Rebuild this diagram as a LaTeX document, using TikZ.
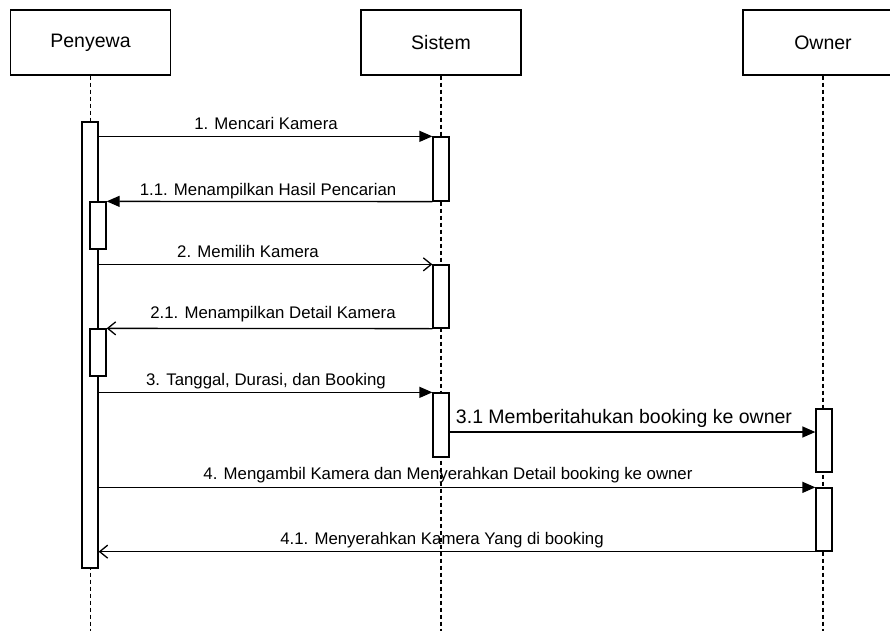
\documentclass[tikz,border=0pt]{standalone}
\usepackage{fontspec}
\setmainfont{Liberation Sans}
\usetikzlibrary{arrows.meta}

\begin{document}
\begin{tikzpicture}[x=1pt,y=-1pt,
  actor/.style={draw,line width=1.3pt,minimum width=160pt,minimum height=65pt,inner sep=0pt,font=\fontsize{19.5}{22}\selectfont},
  lifeline/.style={line width=1.1pt,dash pattern=on 4pt off 3pt},
  actbar/.style={draw,fill=white,line width=1.3pt,minimum width=16pt,inner sep=0pt},
  msg/.style={line width=1.3pt,-{Triangle[length=13pt,width=11pt]}},
  msgopen/.style={line width=1.3pt,-{Straight Barb[length=8pt,width=13pt]}},
  lbl/.style={anchor=base,inner sep=0pt,font=\fontsize{16.8}{18}\selectfont}]
\clip (0,0) rectangle (890,631);
\fill[white] (0,0) rectangle (890,631);
% actors
\node[actor] (penyewa) at (90.5,42.5) {Penyewa};
\node[actor] (sistem) at (441,42.5) {Sistem};
\node[actor] (owner) at (823,42.5) {Owner};
\draw[lifeline] (penyewa.south) -- (penyewa.south |- 0,631);
\draw[lifeline] (sistem.south) -- (sistem.south |- 0,631);
\draw[lifeline] (owner.south) -- (owner.south |- 0,631);
% activation bars
\node[actbar,minimum height=446pt] (p0) at (90,345) {};
\node[actbar,minimum height=47pt] (p1) at (98,225.5) {};
\node[actbar,minimum height=47pt] (p2) at (98,352.5) {};
\node[actbar,minimum height=64pt] (s1) at (441,169) {};
\node[actbar,minimum height=63pt] (s2) at (441,296.5) {};
\node[actbar,minimum height=64pt] (s3) at (441,425) {};
\node[actbar,minimum height=63pt] (o1) at (824,440.5) {};
\node[actbar,minimum height=63pt] (o2) at (824,519.5) {};
\coordinate (m31) at (0,432);
% messages
\draw[msg] (p0.east |- s1.north west) -- (s1.north west);
\node[lbl] (l1) at (266,130) {1. Mencari Kamera};
\draw[msg] (s1.south west) -- (p1.north east);
\node[lbl] (l11) at (268,195) {1.1. Menampilkan Hasil Pencarian};
\draw[msgopen] (p0.east |- s2.north west) -- (s2.north west);
\node[lbl] (l2) at (248,257) {2. Memilih Kamera};
\draw[msgopen] (s2.south west) -- (p2.north east);
\node[lbl] (l21) at (273,318) {2.1. Menampilkan Detail Kamera};
\draw[msg] (p0.east |- s3.north west) -- (s3.north west);
\node[lbl] (l3) at (266,385) {3. Tanggal, Durasi, dan Booking};
\draw[msg] (s3.east |- m31) -- (o1.west |- m31);
\node[lbl,font=\fontsize{19.5}{22}\selectfont] (l31) at (624,423) {3.1 Memberitahukan booking ke owner};
\draw[msg] (p0.east |- o2.north west) -- (o2.north west);
\node[lbl] (l4) at (448,479) {4. Mengambil Kamera dan Menyerahkan Detail booking ke owner};
\draw[msgopen] (o2.south west) -- (p0.east |- o2.south west);
\node[lbl] (l41) at (442,544) {4.1. Menyerahkan Kamera Yang di booking};
\end{tikzpicture}
\end{document}
